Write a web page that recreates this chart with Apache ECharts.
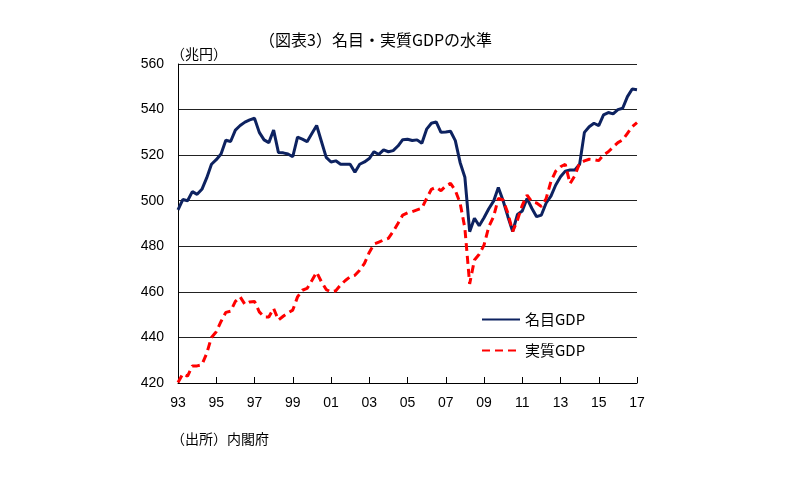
<!DOCTYPE html>
<html>
<head>
<meta charset="utf-8">
<script src="https://cdn.jsdelivr.net/npm/echarts@6/dist/echarts.min.js"></script>
<style>
html,body{margin:0;padding:0;background:#fff;}
#c{width:800px;height:480px;}
</style>
</head>
<body>
<div id="c"></div>
<script>
// Quarterly, 1993Q1 .. 2017Q1
const years = ['93','95','97','99','01','03','05','07','09','11','13','15','17'];
const nominalGDP = [
496,500.5,500,504,502.8,505,510,516,518,520.5,
526.5,526,531,533,534.5,535.5,536.2,530,526.7,525.5,
531,521.2,521,520.5,519.3,527.9,527,525.9,529.5,533,
526,519,517,517.5,516,516,516,512.5,516,517,
518.5,521.5,520.3,522.3,521.5,522,524,526.8,527,526.4,
526.7,525.2,531.4,534,534.6,530,530.2,530.5,526.4,516.8,
510.3,486.4,492.3,489,492.5,496.5,499.8,505.8,500,493,
486.5,494,495.5,501,496.7,493,493.7,499,502,506.9,
510.5,513,513.5,513.5,516,530,532.5,534,533,537.7,
538.7,538.1,540,540.6,545.7,549,548.7
];
const realGDP = [
420.2,424,423,427.5,427.5,428,433,440,442.5,447,
451,451.5,455.8,457.8,454.5,455.6,455.8,451.2,449,449,
452.7,447.6,449.3,450.8,452,457.8,460.7,461.5,465,468.6,
464.4,461,460,460.5,463,465,466.6,467.3,469.5,472.5,
477.3,481,481.8,482.8,483.5,486.5,490,493.7,494.7,495.2,
496,496.7,501,505,505.9,504.4,506.5,507.6,504.5,499,
488,463.5,474,476.5,480.5,488.6,493,501,500.3,494.5,
486.5,491.5,498,502.5,499.5,499,497.5,501,508.5,513,
514.9,516,507.5,511,516.5,517.5,518.2,518,517.6,520.1,
521.5,523.5,525.5,526.7,529.6,532.5,534.3
];
const seriesNames = ['名目GDP','実質GDP'];
const yMin = 420, yMax = 560, yStep = 20;

const categories = nominalGDP.map((_, i) => (i % 8 === 0 ? years[i / 8] : ''));

const chart = echarts.init(document.getElementById('c'), null, {renderer: 'canvas'});
const jp = '"Noto Sans CJK JP", sans-serif';
const num = '"Liberation Sans", Arial, sans-serif';
chart.setOption({
  animation: false,
  backgroundColor: '#ffffff',
  title: [
    {text: '（図表3）名目・実質GDPの水準', left: 254, top: 27,
     textStyle: {fontFamily: jp, fontSize: 16, fontWeight: 'normal', color: '#000'}},
    {text: '（兆円）', left: 166, top: 42,
     textStyle: {fontFamily: jp, fontSize: 14, fontWeight: 'normal', color: '#000'}},
    {text: '（出所）内閣府', left: 166, top: 427,
     textStyle: {fontFamily: jp, fontSize: 14, fontWeight: 'normal', color: '#000'}}
  ],
  grid: {left: 178, right: 163, top: 64, bottom: 97},
  legend: {
    orient: 'vertical', left: 476, top: 307, itemWidth: 38, itemHeight: 14, itemGap: 16,
    itemStyle: {opacity: 0},
    textStyle: {fontFamily: jp, fontSize: 15, color: '#000'},
    data: seriesNames
  },
  xAxis: {
    type: 'category', data: categories, boundaryGap: false,
    axisLine: {lineStyle: {color: '#000', width: 1}},
    axisTick: {inside: true, length: 6, interval: (i) => i % 8 === 0, lineStyle: {color: '#000'}},
    axisLabel: {interval: (i) => i % 8 === 0, margin: 13, fontFamily: num, fontSize: 14, color: '#000'},
    splitLine: {show: false}
  },
  yAxis: {
    type: 'value', min: yMin, max: yMax, interval: yStep,
    axisLine: {show: true, lineStyle: {color: '#000', width: 1}},
    axisTick: {show: false},
    axisLabel: {margin: 14, fontFamily: num, fontSize: 14, color: '#000'},
    splitLine: {lineStyle: {color: '#222', width: 1}}
  },
  series: [
    {name: seriesNames[0], type: 'line', data: nominalGDP, symbol: 'none',
     lineStyle: {color: '#0d2260', width: 3}, itemStyle: {color: '#0d2260'}},
    {name: seriesNames[1], type: 'line', data: realGDP, symbol: 'none',
     lineStyle: {color: '#ff0000', width: 3, type: [8, 5]}, itemStyle: {color: '#ff0000'}}
  ]
});
</script>
</body>
</html>
